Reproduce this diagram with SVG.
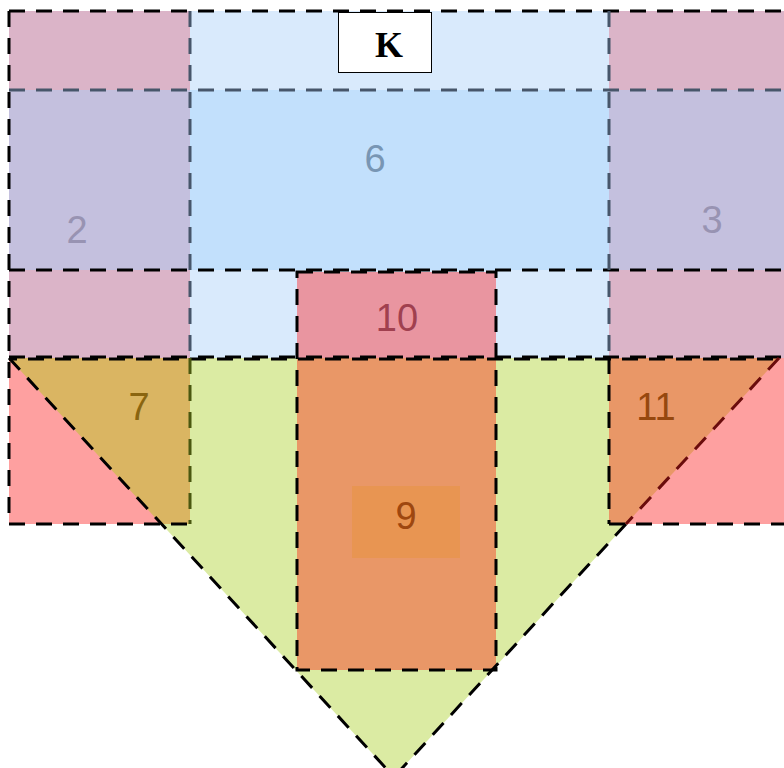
<svg xmlns="http://www.w3.org/2000/svg" width="784" height="768" viewBox="0 0 784 768">
<style>
.d{fill:none;stroke:#000;stroke-width:3;stroke-dasharray:16 11}
.sl{stroke:#47566a}
.ol{stroke:#4a5810}
.dr{stroke:#6a0c0c}
.n{font-family:"Liberation Sans",Arial,sans-serif;font-size:38px;text-anchor:middle}
</style>
<rect width="784" height="768" fill="#fff"/>
<g id="band-top">
<rect x="9" y="11" width="775" height="347" fill="#d9eafc"/>
<rect x="9" y="90" width="775" height="180" fill="#c2e0fc"/>
</g>
<g id="node-2">
<rect x="9" y="11" width="181" height="347" fill="#dbb4c8"/>
<rect x="9" y="90" width="181" height="180" fill="#c4c0de"/>
<text class="n" x="77" y="243" fill="#9893b2">2</text>
</g>
<g id="node-3">
<rect x="609" y="11" width="175" height="347" fill="#dbb4c8"/>
<rect x="609" y="90" width="175" height="180" fill="#c4c0de"/>
<text class="n" x="712" y="233" fill="#9893b2">3</text>
</g>
<g id="node-6">
<text class="n" x="375" y="172" fill="#7896b4">6</text>
</g>
<g id="node-8">
<polygon points="9,358 779,358 394,777" fill="#dbeba3"/>
</g>
<g id="node-7">
<rect x="9" y="358" width="181" height="166" fill="#fea0a0"/>
<polygon points="9,358 190,358 190,524 161,524" fill="#dab562"/>
<text class="n" x="139" y="420" fill="#8a6510">7</text>
</g>
<g id="node-11">
<rect x="609" y="358" width="175" height="166" fill="#fea0a0"/>
<polygon points="609,358 779,358 626,524 609,524" fill="#e99767"/>
<text class="n" x="656" y="420" fill="#96480f">11</text>
</g>
<g id="node-10">
<rect x="297" y="272" width="199" height="86" fill="#e995a0"/>
<text class="n" x="397" y="331" fill="#a0404f">10</text>
</g>
<g id="node-9">
<rect x="297" y="358" width="199" height="312" fill="#e99767"/>
<rect x="352" y="486" width="108" height="72" fill="#e89552"/>
<text class="n" x="406" y="529" fill="#9e470f">9</text>
</g>
<g id="connectors">
<line class="d" x1="9" y1="11" x2="784" y2="11"/>
<line class="d" x1="9" y1="11" x2="9" y2="524"/>
<line class="d sl" x1="9" y1="90" x2="784" y2="90"/>
<line class="d" x1="9" y1="270" x2="784" y2="270"/>
<line class="d" x1="9" y1="357" x2="784" y2="357"/>
<line class="d" x1="9" y1="359" x2="784" y2="359" stroke-dashoffset="8"/>
<line class="d sl" x1="190" y1="11" x2="190" y2="358"/>
<line class="d ol" x1="190" y1="358" x2="190" y2="524"/>
<line class="d sl" x1="609" y1="11" x2="609" y2="358"/>
<line class="d" x1="609" y1="358" x2="609" y2="524"/>
<line class="d" x1="9" y1="524" x2="190" y2="524"/>
<line class="d" x1="609" y1="524" x2="784" y2="524"/>
<rect class="d" x="297" y="272" width="199" height="398"/>
<line class="d" x1="9" y1="358" x2="394" y2="777"/>
<line class="d" x1="626" y1="524" x2="394" y2="777"/>
<line class="d dr" x1="779" y1="358" x2="626" y2="524"/>
</g>
<g id="label-K">
<rect x="338.5" y="12.5" width="93" height="60" fill="#fff" stroke="#000" stroke-width="1"/>
<text x="389" y="57" font-family="'Liberation Serif','Times New Roman',serif" font-weight="bold" font-size="36" text-anchor="middle" fill="#000">K</text>
</g>
</svg>
